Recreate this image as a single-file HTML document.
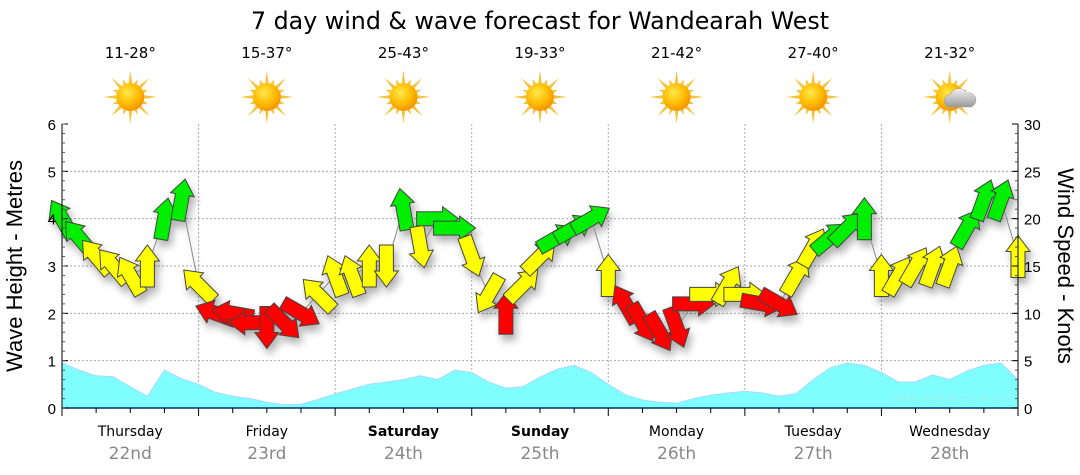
<!DOCTYPE html>
<html><head><meta charset="utf-8"><style>
html,body{margin:0;padding:0;background:#fff;}
svg{display:block;font-family:"DejaVu Sans","Liberation Sans",sans-serif;}
</style></head><body>
<svg id="chart" width="1080" height="475" viewBox="0 0 1080 475">
<defs>
<radialGradient id="sunG" cx="0.4" cy="0.35" r="0.7"><stop offset="0" stop-color="#ffe94a"/><stop offset="0.6" stop-color="#ffb800"/><stop offset="1" stop-color="#f08c00"/></radialGradient>
<linearGradient id="cloudG" x1="0" y1="0" x2="0" y2="1"><stop offset="0" stop-color="#f0f0f0"/><stop offset="1" stop-color="#9a9a9a"/></linearGradient>
<filter id="sh" x="-50%" y="-50%" width="200%" height="200%"><feGaussianBlur in="SourceAlpha" stdDeviation="4"/><feOffset dx="3" dy="6"/><feComponentTransfer><feFuncA type="linear" slope="0.3"/></feComponentTransfer><feMerge><feMergeNode/><feMergeNode in="SourceGraphic"/></feMerge></filter>
</defs>
<text x="540" y="29" text-anchor="middle" font-size="24" textLength="578" lengthAdjust="spacingAndGlyphs" fill="#000">7 day wind &amp; wave forecast for Wandearah West</text>
<g id="grid"></g>
<g id="wave"></g>
<g id="wind" filter="url(#sh)"></g>
<g id="axes"></g>
<g id="days"></g>
<text x="1010" y="401" text-anchor="end" font-size="10" fill="#9ee">www.seabreeze.com.au</text>
<text transform="translate(22,266) rotate(-90)" text-anchor="middle" font-size="22" font-family="Liberation Sans">Wave Height - Metres</text>
<text transform="translate(1058,266) rotate(90)" text-anchor="middle" font-size="22" font-family="Liberation Sans">Wind Speed - Knots</text>
</svg>
<script>
const dayNames=["Thursday","Friday","Saturday","Sunday","Monday","Tuesday","Wednesday"];
const dayDates=["22nd","23rd","24th","25th","26th","27th","28th"];
const dayBold=[false,false,true,true,false,false,false];
const temps=["11-28°","15-37°","25-43°","19-33°","21-42°","27-40°","21-32°"];
const cloudy=[false,false,false,false,false,false,true];
const waveTicks=[0,1,2,3,4,5,6];
const windTicks=[0,5,10,15,20,25,30];
const waveH=[0.95,0.8,0.68,0.66,0.45,0.25,0.8,0.62,0.5,0.33,0.25,0.2,0.12,0.07,0.08,0.18,0.3,0.4,0.5,0.55,0.6,0.68,0.6,0.8,0.75,0.55,0.42,0.45,0.65,0.82,0.9,0.75,0.5,0.28,0.17,0.12,0.1,0.2,0.27,0.32,0.35,0.32,0.25,0.3,0.6,0.85,0.95,0.9,0.75,0.55,0.55,0.7,0.6,0.78,0.9,0.95,0.6];
const windSpd=[20,18,16,15,14,15,20,22,13,10,10,9,8.5,9,10,12,14,14,15,15,21,17,20,19,16,12,10,13,16,18,19,20,14,11,9,8,8.5,11,12,13,12,11,11,14,17,18,19,20,14,14,15,15,15,19,22,22,16];
const windDir=[-30,-40,-40,-40,-30,0,10,10,-45,-70,-80,-90,180,135,120,-45,-20,-20,0,180,-10,170,90,90,160,-150,0,45,45,60,60,60,0,-30,150,150,160,90,90,30,90,100,120,30,30,50,45,0,0,30,30,20,20,30,20,20,0];

const X0=62,X1=1018,Y0=408,Y6=124,H=168;
const xh=h=>X0+(X1-X0)*h/H;
const yW=m=>Y0-(Y0-Y6)*m/6;
const yK=k=>Y0-(Y0-Y6)*k/30;
const NS="http://www.w3.org/2000/svg";
function mk(t,a,p){const e=document.createElementNS(NS,t);for(const k in a)e.setAttribute(k,a[k]);p.appendChild(e);return e;}
const grid=document.getElementById('grid'),axes=document.getElementById('axes'),days=document.getElementById('days');
for(let i=1;i<6;i++){const l=mk('line',{x1:X0,x2:X1,y1:yW(i),y2:yW(i),stroke:'#aaa','stroke-dasharray':'2,2'},grid);

}
for(let d=1;d<7;d++){const x=xh(d*24);const l=mk('line',{x1:x,x2:x,y1:Y6,y2:Y0,stroke:'#aaa','stroke-dasharray':'2,2'},grid);

}
let d='M'+xh(0)+','+Y0;
waveH.forEach((v,i)=>{d+=' L'+xh(i*3).toFixed(1)+','+yW(v).toFixed(1);});
d+=' L'+xh((waveH.length-1)*3)+','+Y0+' Z';
const wa=mk('path',{d:d,fill:'#80ffff',stroke:'#a8d8ff','stroke-width':1},document.getElementById('wave'));


const wind=document.getElementById('wind');
let ld='';windSpd.forEach((v,i)=>{ld+=(i?' L':'M')+xh(i*3).toFixed(1)+','+yK(v).toFixed(1);});
const wl=mk('path',{d:ld,fill:'none',stroke:'#888','stroke-width':1},wind);


const arrowPath='M0,-21 L12,-5 L7,-5 L7,21 L-7,21 L-7,-5 L-12,-5 Z';
windSpd.forEach((v,i)=>{
 const c=v<11.5?'#ff0000':(v<18?'#ffff00':'#00ee00');
 const a=mk('path',{d:arrowPath,fill:c,stroke:'#444','stroke-width':1,transform:'translate('+xh(i*3).toFixed(1)+','+yK(v).toFixed(1)+') rotate('+windDir[i]+')'},wind);
 
 
});
mk('line',{x1:X0,x2:X0,y1:Y6,y2:Y0,stroke:'#000'},axes);
mk('line',{x1:X1,x2:X1,y1:Y6,y2:Y0,stroke:'#000'},axes);
mk('line',{x1:X0,x2:X1,y1:Y0,y2:Y0,stroke:'#036',"stroke-width":1.5},axes);
waveTicks.forEach(t=>{const tx=mk('text',{x:X0-6,y:yW(t)+6,'text-anchor':'end','font-size':15,'font-family':'Liberation Sans'},axes);tx.textContent=t;


mk('line',{x1:X0,x2:X0+6,y1:yW(t),y2:yW(t),stroke:'#000'},axes);});
for(let i=0;i<=30;i++){const y=Y0-(Y0-Y6)*i/30;mk('line',{x1:X0,x2:X0+3,y1:y,y2:y,stroke:'#555'},axes);mk('line',{x1:X1,x2:X1-3,y1:y,y2:y,stroke:'#555'},axes);}
windTicks.forEach(t=>{const tx=mk('text',{x:X1+6,y:yK(t)+6,'font-size':15,'font-family':'Liberation Sans'},axes);tx.textContent=t;


mk('line',{x1:X1,x2:X1-6,y1:yK(t),y2:yK(t),stroke:'#000'},axes);});
for(let h=0;h<=H;h+=6){const x=xh(h);mk('line',{x1:x,x2:x,y1:Y0,y2:Y0+(h%24?5:8),stroke:'#000'},axes);}
dayNames.forEach((n,i)=>{const cx=xh(i*24+12);
 const t=mk('text',{x:cx,y:436,'text-anchor':'middle','font-size':14,'font-weight':dayBold[i]?'bold':'normal'},days);t.textContent=n;
 
 
 const dt=mk('text',{x:cx,y:459,'text-anchor':'middle','font-size':17,fill:'#888'},days);dt.textContent=dayDates[i];
 
 
 const tt=mk('text',{x:cx,y:58,'text-anchor':'middle','font-size':15},days);tt.textContent=temps[i];
 
 
 const g=mk('g',{transform:'translate('+cx+',97)'},days);
 
 
 for(let r=0;r<16;r++){const L=r%2?19:27;const ang=r*Math.PI/8;
  const p=[[Math.sin(ang)*L,-Math.cos(ang)*L],[Math.sin(ang+0.12)*14,-Math.cos(ang+0.12)*14],[Math.sin(ang-0.12)*14,-Math.cos(ang-0.12)*14]];
  mk('polygon',{points:p.map(q=>q[0].toFixed(1)+','+q[1].toFixed(1)).join(' '),fill:'#f6c23a'},g);}
 mk('circle',{cx:0,cy:0,r:14,fill:'url(#sunG)'},g);
 if(cloudy[i]){mk('path',{d:'M-2,10 a7,7 0 0 1 3,-13 a9,9 0 0 1 16,-1 a7,7 0 0 1 4,14 Z',fill:'url(#cloudG)',stroke:'#999','stroke-width':0.5},g);}
});
</script>
</body></html>
